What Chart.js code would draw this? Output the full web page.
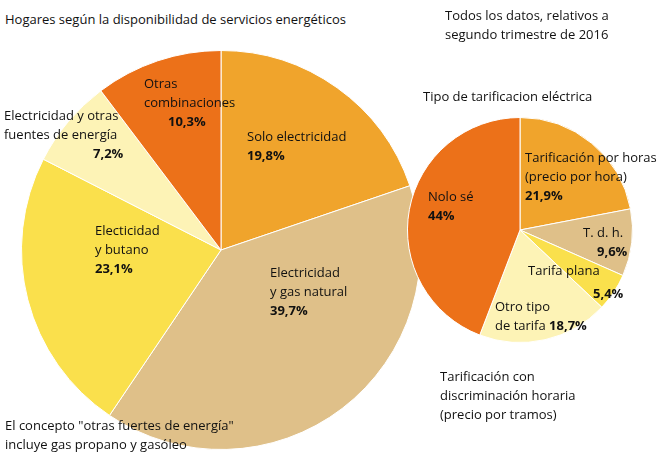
<!DOCTYPE html>
<html lang="es">
<head>
<meta charset="UTF-8" />
<title>Hogares según servicios energéticos</title>
<script src="https://cdn.jsdelivr.net/npm/chart.js"></script>
<style>
  body { margin: 0; width: 671px; height: 457px; background: #fff; position: relative; overflow: hidden;
         font-family: "Open Sans", sans-serif; font-size: 13px; color: #111; }
  .t { position: absolute; line-height: 19px; white-space: nowrap; }
  .box { position: absolute; }
  b { font-weight: bold; }
</style>
</head>
<body>
  <div class="box" style="left:21px;top:50px;width:400px;height:400px"><canvas id="left"></canvas></div>
  <div class="box" style="left:407px;top:117px;width:226px;height:226px"><canvas id="right"></canvas></div>
  <div id="labels"></div>

<script>
// left pie: households by available energy services
const leftCats = ['Solo electricidad', 'Electricidad y gas natural', 'Electicidad y butano',
                  'Electricidad y otras fuentes de energía', 'Otras combinaciones'];
const leftVals = [19.8, 39.7, 23.1, 7.2, 10.3];
// right pie: type of electricity tariff
const rightCats = ['Tarificación por horas', 'T. d. h.', 'Tarifa plana', 'Otro tipo de tarifa', 'Nolo sé'];
const rightVals = [21.9, 9.6, 5.4, 18.7, 44];

const colors = ['#F0A42C', '#DFC089', '#FAE04C', '#FDF3B6', '#EC7119'];

// free text on the page
const texts = [
  [5, 10, 'Hogares según la disponibilidad de servicios energéticos'],
  [445, 6, 'Todos los datos, relativos a'],
  [445, 25, 'segundo trimestre de 2016'],
  [423, 87, 'Tipo de tarificacion eléctrica'],
  [440, 367, 'Tarificación con'],
  [440, 386, 'discriminación horaria'],
  [440, 405, '(precio por tramos)'],
  [5, 416, 'El concepto "otras fuertes de energía"'],
  [5, 435, 'incluye gas propano y gasóleo'],
  // slice labels
  [247, 127, 'Solo electricidad<br><b>' + '19,8%' + '</b>'],
  [270, 263, 'Electricidad<br>y gas natural<br><b>39,7%</b>'],
  [95, 221, 'Electicidad<br>y butano<br><b>23,1%</b>'],
  [4, 106, 'Electricidad y otras<br>fuentes de energía<br><span style="padding-left:89px"><b>7,2%</b></span>'],
  [144, 74, 'Otras<br>combinaciones<br><span style="padding-left:24px"><b>10,3%</b></span>'],
  [525, 148, 'Tarificación por horas<br>(precio por hora)<br><b>21,9%</b>'],
  [583, 223, 'T. d. h.<br><span style="padding-left:14px"><b>9,6%</b></span>'],
  [528, 261, 'Tarifa plana'],
  [593, 284, '<b>5,4%</b>'],
  [495, 297, 'Otro tipo<br>de tarifa <b>18,7%</b>'],
  [428, 187, 'Nolo sé<br><b>44%</b>']
];
const holder = document.getElementById('labels');
texts.forEach(([x, y, html]) => {
  const d = document.createElement('div');
  d.className = 't';
  d.style.left = x + 'px';
  d.style.top = y + 'px';
  d.innerHTML = html;
  holder.appendChild(d);
});

function pie(id, cats, vals) {
  return new Chart(document.getElementById(id), {
    type: 'pie',
    data: {
      labels: cats,
      datasets: [{ data: vals, backgroundColor: colors, borderColor: '#fff', borderWidth: 1 }]
    },
    options: {
      responsive: true,
      maintainAspectRatio: false,
      animation: false,
      layout: { padding: 0 },
      plugins: { legend: { display: false }, tooltip: { enabled: false } }
    }
  });
}
pie('left', leftCats, leftVals);
pie('right', rightCats, rightVals);
</script>
</body>
</html>
